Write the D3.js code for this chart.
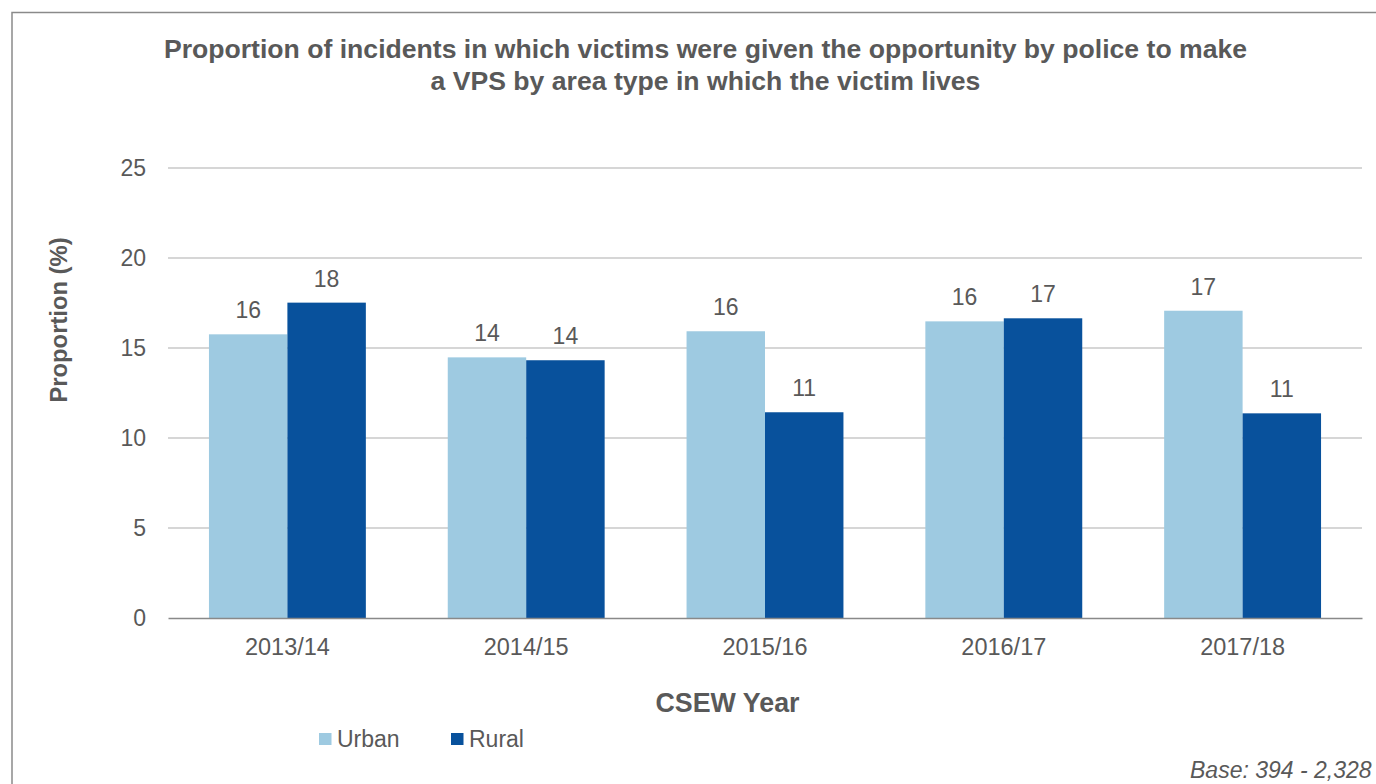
<!DOCTYPE html>
<html>
<head>
<meta charset="utf-8">
<script src="https://cdn.jsdelivr.net/npm/d3@7"></script>
<style>
  html, body { margin: 0; padding: 0; background: #fff; }
  svg { display: block; font-family: "Liberation Sans", Arial, sans-serif; }
</style>
</head>
<body>
<svg id="chart" width="1376" height="784"></svg>
<script>
// ---- Data ----
const categories = ["2013/14", "2014/15", "2015/16", "2016/17", "2017/18"];
const seriesNames = ["Urban", "Rural"];
const urbanValues = [15.76, 14.48, 15.93, 16.48, 17.07];
const ruralValues = [17.52, 14.32, 11.43, 16.65, 11.37];
const yTicks = [0, 5, 10, 15, 20, 25];
const titleLines = [
  "Proportion of incidents in which victims were given the opportunity by police to make",
  "a VPS by area type in which the victim lives"
];
const yAxisTitle = "Proportion (%)";
const xAxisTitle = "CSEW Year";
const baseNote = "Base: 394 - 2,328";

const colors = { Urban: "#9ecae1", Rural: "#08519c" };
const textColor = "#595959";

const table = categories.map((c, i) => ({ cat: c, Urban: urbanValues[i], Rural: ruralValues[i] }));

const svg = d3.select("#chart");

// Outer frame (right/bottom edges fall outside the visible crop)
svg.append("rect")
  .attr("x", 12).attr("y", 12.5)
  .attr("width", 1400).attr("height", 800)
  .attr("fill", "none").attr("stroke", "#8a8a8a").attr("stroke-width", 1.5);

const plot = { left: 168, right: 1362, top: 168, bottom: 618 };

const x = d3.scaleBand().domain(categories)
  .range([plot.left, plot.right])
  .paddingInner(0.343).paddingOuter(0.1715);
const xs = d3.scaleBand().domain(seriesNames).range([0, x.bandwidth()]).padding(0);
const y = d3.scaleLinear().domain([0, 25]).range([plot.bottom, plot.top]);

// Gridlines
svg.append("g").selectAll("line").data(yTicks.filter(t => t > 0)).join("line")
  .attr("x1", plot.left).attr("x2", plot.right)
  .attr("y1", d => y(d)).attr("y2", d => y(d))
  .attr("stroke", "#c9c9c9").attr("stroke-width", 1.3);

// Y axis tick labels
const yAxis = d3.axisLeft(y).tickValues(yTicks).tickSize(0).tickPadding(22);
const gy = svg.append("g").attr("transform", `translate(${plot.left},0)`).call(yAxis);
gy.select(".domain").remove();
gy.selectAll("text").attr("font-size", 23).attr("fill", textColor)
  .attr("font-family", "Liberation Sans, Arial, sans-serif");

// Bars
const groups = svg.append("g").selectAll("g").data(table).join("g")
  .attr("transform", d => `translate(${x(d.cat)},0)`);
groups.selectAll("rect").data(d => seriesNames.map(s => ({ s, v: d[s] }))).join("rect")
  .attr("x", d => xs(d.s)).attr("width", xs.bandwidth())
  .attr("y", d => y(d.v)).attr("height", d => y(0) - y(d.v))
  .attr("fill", d => colors[d.s]);
groups.selectAll("text").data(d => seriesNames.map(s => ({ s, v: d[s] }))).join("text")
  .attr("x", d => xs(d.s) + xs.bandwidth() / 2)
  .attr("y", d => y(d.v) - 16)
  .attr("text-anchor", "middle").attr("font-size", 23).attr("fill", textColor)
  .text(d => Math.round(d.v));

// X axis
const xAxis = d3.axisBottom(x).tickSize(0).tickPadding(20);
const gx = svg.append("g").attr("transform", `translate(0,${plot.bottom})`).call(xAxis);
gx.select(".domain").attr("stroke", "#898989").attr("stroke-width", 1.6);
gx.selectAll("text").attr("font-size", 23.5).attr("fill", textColor)
  .attr("font-family", "Liberation Sans, Arial, sans-serif");

// Title
svg.append("text").attr("x", 705.5).attr("y", 58)
  .attr("text-anchor", "middle").attr("font-size", 26.6).attr("font-weight", "bold")
  .attr("fill", textColor)
  .selectAll("tspan").data(titleLines).join("tspan")
  .attr("x", 705.5).attr("dy", (d, i) => i === 0 ? 0 : 31.5)
  .text(d => d);

// Axis titles
svg.append("text")
  .attr("transform", "translate(67,320) rotate(-90)")
  .attr("text-anchor", "middle").attr("font-size", 23.8).attr("font-weight", "bold")
  .attr("fill", textColor).text(yAxisTitle);
svg.append("text").attr("x", 727.5).attr("y", 712)
  .attr("text-anchor", "middle").attr("font-size", 26.8).attr("font-weight", "bold")
  .attr("fill", textColor).text(xAxisTitle);

// Legend
const legendX = [319, 451];
const lg = svg.append("g").selectAll("g").data(seriesNames).join("g")
  .attr("transform", (d, i) => `translate(${legendX[i]},733)`);
lg.append("rect").attr("width", 12.5).attr("height", 12).attr("fill", d => colors[d]);
lg.append("text").attr("x", 18).attr("y", 14).attr("font-size", 23).attr("fill", textColor).text(d => d);

// Base note
svg.append("text").attr("x", 1190).attr("y", 778)
  .attr("font-size", 23).attr("font-style", "italic").attr("fill", textColor).text(baseNote);
</script>
</body>
</html>
